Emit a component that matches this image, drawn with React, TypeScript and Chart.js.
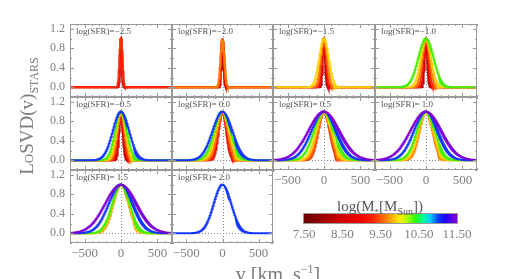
import React, { useEffect, useRef } from "react";
import { Chart, registerables } from "chart.js";
Chart.register(...registerables);

// ---------- data ----------
const sfrValues = [-2.5, -2.0, -1.5, -1.0, -0.5, 0.0, 0.5, 1.0, 1.5, 2.0];
const massBins = [8.0, 8.5, 9.0, 9.5, 10.0, 10.5, 11.0, 11.5];
const massColors = ["#b00000", "#e60000", "#ff2a00", "#ff7a00", "#ffd000", "#44f000", "#1438ff", "#8000d8"];

// LoSVD dispersion (km/s) per stellar-mass bin, null = no galaxies in bin
const sigmaSfrM25 = [12, 15, 19, null, null, null, null, null];
const sigmaSfrM20 = [14, 18, 22, 26, null, null, null, null];
const sigmaSfrM15 = [16, 24, 32, 44, 64, null, null, null];
const sigmaSfrM10 = [18, 26, 38, 52, 70, 105, null, null];
const sigmaSfrM05 = [25, 33, 42, 52, 62, 80, 112, null];
const sigmaSfrP00 = [null, 52, 62, 75, 92, 112, 138, null];
const sigmaSfrP05 = [null, null, 76, 88, 105, 135, 172, 215];
const sigmaSfrP10 = [null, null, null, 88, 102, 124, 165, 215];
const sigmaSfrP15 = [null, null, null, 105, 110, 120, 168, 218];
const sigmaSfrP20 = [null, null, null, null, null, null, 122, null];
const panelSigmas = [
  sigmaSfrM25, sigmaSfrM20, sigmaSfrM15, sigmaSfrM10, sigmaSfrM05,
  sigmaSfrP00, sigmaSfrP05, sigmaSfrP10, sigmaSfrP15, sigmaSfrP20,
];

const xMajorTicks = [-500, 0, 500];
const xMinorTicks = [-700, -600, -400, -300, -200, -100, 100, 200, 300, 400, 600, 700];
const yMajorTicks = [0, 0.4, 0.8, 1.2];
const yMinorTicks = [-0.2, 0.2, 0.6, 1.0];
const colorbarTicks = [7.5, 8.5, 9.5, 10.5, 11.5];

const velocityMin = -700;
const velocityMax = 700;
const velocityStep = 2;

// colormap of the colour bar (value, colour)
const cmapStops: [number, string][] = [
  [7.5, "#660000"], [8.0, "#9c0000"], [8.5, "#d40000"], [9.0, "#f20000"],
  [9.3, "#ff2200"], [9.6, "#ff7000"], [9.85, "#ffc000"], [10.0, "#ffee00"],
  [10.2, "#b0ff00"], [10.4, "#30ff00"], [10.6, "#00ff90"], [10.8, "#00d0ff"],
  [11.0, "#0040ff"], [11.2, "#2000ff"], [11.5, "#8800d0"],
];

// ---------- layout ----------
const colEdges = [70, 172, 273, 375, 477];
const rowEdges = [24, 97, 170, 243];
const SERIF = "'Liberation Serif', 'DejaVu Serif', serif";

function gaussianProfile(sigma: number) {
  const pts: { x: number; y: number }[] = [];
  for (let v = velocityMin; v <= velocityMax; v += velocityStep) {
    pts.push({ x: v, y: Math.exp(-0.5 * (v / sigma) * (v / sigma)) });
  }
  return pts;
}

function sfrLabel(v: number) {
  return "log(SFR)=" + (v < 0 ? "\u2212" : " ") + Math.abs(v).toFixed(1);
}

const decorPlugin = (label: string) => ({
  id: "decor",
  beforeDatasetsDraw(chart: any) {
    const { ctx, chartArea: a, scales } = chart;
    const x0 = Math.round(scales.x.getPixelForValue(0)) + 0.5;
    const y0 = Math.round(scales.y.getPixelForValue(0)) + 0.5;
    ctx.save();
    ctx.strokeStyle = "#8a8a8a";
    ctx.lineWidth = 1;
    ctx.setLineDash([1, 2]);
    ctx.beginPath();
    ctx.moveTo(x0, a.top);
    ctx.lineTo(x0, a.bottom);
    ctx.moveTo(a.left, y0);
    ctx.lineTo(a.right, y0);
    ctx.stroke();
    ctx.restore();
  },
  afterDatasetsDraw(chart: any) {
    const { ctx, chartArea: a, scales } = chart;
    ctx.save();
    ctx.strokeStyle = "#999";
    ctx.lineWidth = 1;
    ctx.strokeRect(a.left + 0.5, a.top + 0.5, a.right - a.left - 1, a.bottom - a.top - 1);
    ctx.beginPath();
    const xt = (vals: number[], len: number) => {
      vals.forEach((v) => {
        const p = Math.round(scales.x.getPixelForValue(v)) + 0.5;
        ctx.moveTo(p, a.bottom);
        ctx.lineTo(p, a.bottom - len);
        ctx.moveTo(p, a.top);
        ctx.lineTo(p, a.top + len);
      });
    };
    const yt = (vals: number[], len: number) => {
      vals.forEach((v) => {
        const p = Math.round(scales.y.getPixelForValue(v)) + 0.5;
        ctx.moveTo(a.left, p);
        ctx.lineTo(a.left + len, p);
        ctx.moveTo(a.right, p);
        ctx.lineTo(a.right - len, p);
      });
    };
    xt(xMajorTicks, 4);
    xt(xMinorTicks, 2);
    yt(yMajorTicks, 4);
    yt(yMinorTicks, 2);
    ctx.stroke();
    ctx.fillStyle = "#555";
    ctx.font = "9px " + SERIF;
    ctx.textBaseline = "middle";
    ctx.fillText(label, a.left + 6, a.top + 8);
    ctx.restore();
  },
});

function Panel({ index }: { index: number }) {
  const ref = useRef<HTMLCanvasElement>(null);
  const row = Math.floor(index / 4);
  const col = index % 4;
  const px = colEdges[col];
  const pw = colEdges[col + 1] - px;
  const py = rowEdges[row];
  const ph = rowEdges[row + 1] - py;
  const showY = col === 0;
  const showX = index >= 6;
  const L = 45, T = 2, R = 2, B = 22;
  const W = L + pw + R;
  const H = T + ph + B;

  useEffect(() => {
    const sigmas = panelSigmas[index];
    const datasets: any[] = [];
    for (let k = massBins.length - 1; k >= 0; k--) {
      const s = sigmas[k];
      if (s == null) continue;
      datasets.push({
        label: String(massBins[k]),
        data: gaussianProfile(s),
        borderColor: massColors[k],
        borderWidth: 2,
        pointRadius: 0,
        fill: false,
        tension: 0,
      });
    }
    const chart = new Chart(ref.current as HTMLCanvasElement, {
      type: "line",
      data: { datasets },
      options: {
        animation: false,
        responsive: false,
        maintainAspectRatio: false,
        devicePixelRatio: 1,
        events: [],
        layout: { padding: { top: T, right: R, left: 0, bottom: 0 } },
        plugins: { legend: { display: false }, tooltip: { enabled: false } },
        scales: {
          x: {
            type: "linear",
            min: velocityMin,
            max: velocityMax,
            grid: { display: false, drawTicks: false },
            border: { display: false },
            afterBuildTicks: (s: any) => {
              s.ticks = xMajorTicks.map((v) => ({ value: v }));
            },
            ticks: {
              display: showX,
              color: "#808080",
              font: { family: SERIF, size: 13 },
              padding: 3,
              maxRotation: 0,
              autoSkip: false,
              callback: (v: any) => (v < 0 ? "\u2212" + Math.abs(v) : String(v)),
            },
            afterFit: (s: any) => {
              s.height = B;
              s.paddingLeft = 0;
              s.paddingRight = 0;
            },
          },
          y: {
            type: "linear",
            min: -0.2,
            max: 1.3,
            grid: { display: false, drawTicks: false },
            border: { display: false },
            afterBuildTicks: (s: any) => {
              s.ticks = yMajorTicks.map((v) => ({ value: v }));
            },
            ticks: {
              display: showY,
              color: "#808080",
              font: { family: SERIF, size: 12 },
              padding: 5,
              autoSkip: false,
              callback: (v: any) => Number(v).toFixed(1),
            },
            afterFit: (s: any) => {
              s.width = L;
              s.paddingTop = 0;
              s.paddingBottom = 0;
            },
          },
        },
      } as any,
      plugins: [decorPlugin(sfrLabel(sfrValues[index]))],
    });
    return () => chart.destroy();
  }, []);

  return (
    <canvas
      ref={ref}
      width={W}
      height={H}
      style={{ position: "absolute", left: px - L, top: py - T, width: W, height: H }}
    />
  );
}

const colorbarPlugin = {
  id: "cbar",
  beforeDatasetsDraw(chart: any) {
    const { ctx, chartArea: a, scales } = chart;
    const g = ctx.createLinearGradient(a.left, 0, a.right, 0);
    const lo = scales.x.min, hi = scales.x.max;
    cmapStops.forEach(([v, c]) => g.addColorStop((v - lo) / (hi - lo), c));
    ctx.save();
    ctx.fillStyle = g;
    ctx.fillRect(a.left, a.top, a.right - a.left, a.bottom - a.top);
    ctx.strokeStyle = "#999";
    ctx.lineWidth = 1;
    ctx.strokeRect(a.left - 0.5, a.top - 0.5, a.right - a.left + 1, a.bottom - a.top + 1);
    ctx.restore();
  },
};

function ColorBar() {
  const ref = useRef<HTMLCanvasElement>(null);
  const x0 = 304, x1 = 457, y0 = 214, y1 = 223;
  const L = 25, R = 25, T = 2, B = 22;
  const W = L + (x1 - x0) + R;
  const H = T + (y1 - y0) + B;
  useEffect(() => {
    const chart = new Chart(ref.current as HTMLCanvasElement, {
      type: "scatter",
      data: { datasets: [] },
      options: {
        animation: false,
        responsive: false,
        maintainAspectRatio: false,
        devicePixelRatio: 1,
        events: [],
        layout: { padding: { top: T, right: R, left: L, bottom: 0 } },
        plugins: { legend: { display: false }, tooltip: { enabled: false } },
        scales: {
          x: {
            type: "linear",
            min: colorbarTicks[0],
            max: colorbarTicks[colorbarTicks.length - 1],
            grid: { display: false, drawTicks: false },
            border: { display: false },
            afterBuildTicks: (s: any) => {
              s.ticks = colorbarTicks.map((v) => ({ value: v }));
            },
            ticks: {
              color: "#808080",
              font: { family: SERIF, size: 13 },
              padding: 4,
              maxRotation: 0,
              autoSkip: false,
              callback: (v: any) => Number(v).toFixed(2),
            },
            afterFit: (s: any) => {
              s.height = B;
              s.paddingLeft = 0;
              s.paddingRight = 0;
            },
          },
          y: { display: false, min: 0, max: 1 },
        },
      } as any,
      plugins: [colorbarPlugin],
    });
    return () => chart.destroy();
  }, []);
  return (
    <canvas
      ref={ref}
      width={W}
      height={H}
      style={{ position: "absolute", left: x0 - L, top: y0 - T, width: W, height: H }}
    />
  );
}

export default function App() {
  return (
    <div
      style={{
        position: "fixed",
        left: 0,
        top: 0,
        width: 508,
        height: 279,
        background: "#fff",
        overflow: "hidden",
        fontFamily: SERIF,
      }}
    >
      {sfrValues.map((_, i) => (
        <Panel key={i} index={i} />
      ))}
      <ColorBar />
      <div
        style={{
          position: "absolute",
          left: 27 - 100,
          top: 116 - 13,
          width: 200,
          height: 26,
          lineHeight: "26px",
          textAlign: "center",
          transform: "rotate(-90deg)",
          fontSize: 19,
          color: "#7a7a7a",
          whiteSpace: "nowrap",
        }}
      >
        <span style={{ fontVariant: "small-caps" }}>LoSVD</span>(v)
        <sub style={{ fontSize: 12 }}>STARS</sub>
      </div>
      <div
        style={{
          position: "absolute",
          left: 178,
          top: 256,
          width: 200,
          height: 26,
          lineHeight: "26px",
          textAlign: "center",
          fontSize: 20,
          color: "#7a7a7a",
          whiteSpace: "nowrap",
        }}
      >
        v [km&nbsp;&nbsp;s<sup style={{ fontSize: 12 }}>{"\u22121"}</sup>]
      </div>
      <div
        style={{
          position: "absolute",
          left: 380 - 80,
          top: 196,
          width: 160,
          height: 20,
          lineHeight: "20px",
          textAlign: "center",
          fontSize: 15,
          color: "#555",
          whiteSpace: "nowrap",
        }}
      >
        log(M<sub style={{ fontSize: 9 }}>*</sub>[M<sub style={{ fontSize: 10 }}>Sun</sub>])
      </div>
    </div>
  );
}
